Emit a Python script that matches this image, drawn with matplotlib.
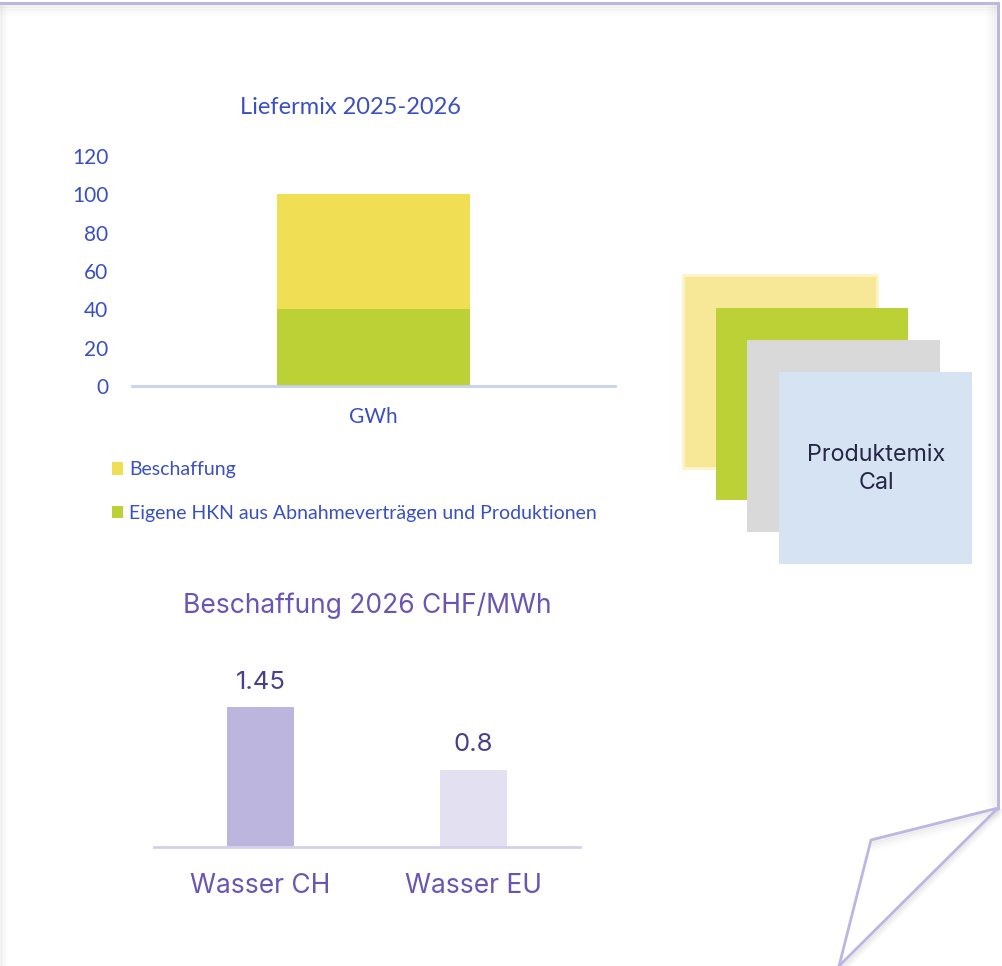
import numpy as np
import matplotlib.pyplot as plt
from matplotlib.patches import Rectangle

## Daten
mix_kat = ['GWh']
eigene = [40]
beschaffung = [60]
mix_ticks = [0, 20, 40, 60, 80, 100, 120]

preis_kat = ['Wasser CH', 'Wasser EU']
preis_werte = [1.45, 0.8]
preis_farben = ['#bcb6de', '#e3e0f2']

W, H = 1002, 966

def rect(x0, y0, x1, y1):
    # pixel (von oben) -> figure-Koordinaten
    return [x0 / W, 1 - y1 / H, (x1 - x0) / W, (y1 - y0) / H]

fig = plt.figure(figsize=(W / 100, H / 100), dpi=100)
fig.patch.set_facecolor('white')

blau = '#3b4fc4'
lila = '#6a55b4'

## Hintergrund / Seite mit Eselsohr
bg = fig.add_axes([0, 0, 1, 1])
bg.set_xlim(0, W)
bg.set_ylim(H, 0)
bg.axis('off')
# Schatten
for i, a in enumerate([0.10, 0.07, 0.05, 0.03, 0.015]):
    bg.plot([0, 995], [6 + 2 * i, 6 + 2 * i], color='#9a9a9a', lw=2, alpha=a)
    bg.plot([1 + 1.5 * i, 1 + 1.5 * i], [6, H], color='#9a9a9a', lw=1.5, alpha=a)
    bg.plot([995 - 2 * i, 995 - 2 * i], [6, 805], color='#9a9a9a', lw=2, alpha=a)
    bg.plot([998, 873], [810 + 2 * i, 842 + 2 * i], color='#9a9a9a', lw=2, alpha=a * 1.3)
    bg.plot([998 + 2 * i, 842 + 2 * i], [810, H], color='#9a9a9a', lw=2, alpha=a * 1.3)
rand = '#bdb5e2'
bg.plot([0, 998, 998], [3, 3, 808], color=rand, lw=2.2, solid_joinstyle='miter')
bg.plot([998, 871, 839], [808, 840, H], color=rand, lw=2)
bg.plot([998, 839], [808, H], color=rand, lw=2)

## Quadrate Produktemix
bg.add_patch(Rectangle((683, 275), 194, 193, facecolor='#f7e897', edgecolor='#fcf3c8', lw=2))
bg.add_patch(Rectangle((716, 308), 192, 192, facecolor='#bcd135', edgecolor='none'))
bg.add_patch(Rectangle((747, 340), 193, 192, facecolor='#d9d9d9', edgecolor='none'))
bg.add_patch(Rectangle((779, 372), 193, 192, facecolor='#d6e3f3', edgecolor='none'))
bg.text(876, 469, 'Produktemix\nCal', ha='center', va='center', fontsize=16.8,
        color='#262646', family='Inter', linespacing=1.3)

## Liefermix 2025-2026
ax1 = fig.add_axes(rect(132, 156, 615, 386))
x = np.arange(len(mix_kat))
ax1.bar(x, eigene, width=0.4, color='#bcd135', label='Eigene HKN aus Abnahmeverträgen und Produktionen')
ax1.bar(x, beschaffung, width=0.4, bottom=eigene, color='#f0de55', label='Beschaffung')
ax1.set_xlim(-0.5, 0.5)
ax1.set_ylim(0, 120)
ax1.set_yticks(mix_ticks)
ax1.set_xticks(x)
ax1.set_xticklabels(mix_kat)
for s in ['top', 'right', 'left']:
    ax1.spines[s].set_visible(False)
ax1.spines['bottom'].set_color('#c8d2ee')
ax1.spines['bottom'].set_linewidth(2)
ax1.tick_params(length=0, labelsize=15, labelcolor=blau, pad=17)
ax1.tick_params(axis='x', pad=15)
for t in ax1.get_yticklabels() + ax1.get_xticklabels():
    t.set_family('Lato')
fig.text(350 / W, 1 - 107 / H, 'Liefermix 2025-2026', ha='center', va='center',
         fontsize=17, color=blau, family='Lato')
h, l = ax1.get_legend_handles_labels()
fig.legend(h[::-1], l[::-1], loc='upper left', bbox_to_anchor=(94 / W, 1 - 444 / H),
           frameon=False, prop={'family': 'Lato', 'size': 14}, labelcolor=blau,
           handlelength=0.6, handleheight=0.6, handletextpad=0.3, labelspacing=1.35)

## Beschaffung 2026 CHF/MWh
ax2 = fig.add_axes(rect(154, 693, 580, 847))
x2 = np.arange(len(preis_kat))
bars = ax2.bar(x2, preis_werte, width=0.315, color=preis_farben)
ax2.set_xlim(-0.5, 1.5)
ax2.set_ylim(0, 1.6)
ax2.set_yticks([])
ax2.set_xticks(x2)
ax2.set_xticklabels(preis_kat)
for s in ['top', 'right', 'left']:
    ax2.spines[s].set_visible(False)
ax2.spines['bottom'].set_color('#d6cfec')
ax2.spines['bottom'].set_linewidth(2)
ax2.tick_params(length=0, labelsize=19, labelcolor=lila, pad=19)
for t in ax2.get_xticklabels():
    t.set_family('Inter')
for b, v in zip(bars, preis_werte):
    ax2.annotate(f'{v:g}', (b.get_x() + b.get_width() / 2, v), xytext=(0, 10),
                 textcoords='offset points', ha='center', va='bottom',
                 fontsize=18.5, color='#4b3f8c', family='Inter')
fig.text(367 / W, 1 - 606 / H, 'Beschaffung 2026 CHF/MWh', ha='center', va='center',
         fontsize=19, color=lila, family='Inter')

plt.savefig('out.png', dpi=100)
